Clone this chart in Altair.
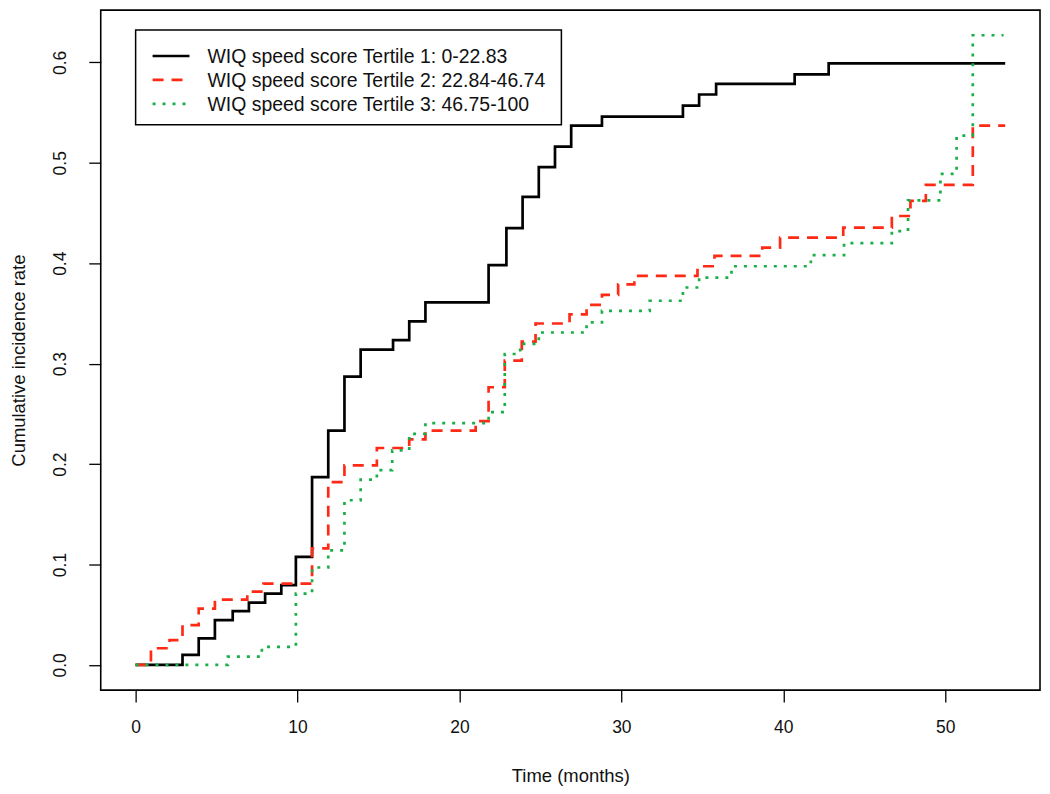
import altair as alt
import pandas as pd

# ---- data ----
series_labels = [
    "WIQ speed score Tertile 1: 0-22.83",
    "WIQ speed score Tertile 2: 22.84-46.74",
    "WIQ speed score Tertile 3: 46.75-100",
]
series_colors = ["#000000", "#ff2a16", "#1aaf48"]
series_dashes = [[1, 0], [11, 8], [3, 7]]

t1_time = [0, 2.9, 3.9, 4.9, 6.0, 7.0, 8.0, 9.0, 9.9, 10.9, 11.9, 12.9, 13.9, 15.9,
           16.9, 17.9, 21.8, 22.9, 23.9, 24.9, 25.9, 26.9, 28.8, 33.8, 34.8, 35.85,
           40.7, 42.8, 53.7]
t1_val = [0, 0.010, 0.0265, 0.0447, 0.0536, 0.062, 0.071, 0.0795, 0.1076, 0.187,
          0.2334, 0.287, 0.314, 0.3235, 0.342, 0.361, 0.398, 0.435, 0.466, 0.4957,
          0.516, 0.537, 0.546, 0.557, 0.568, 0.5785, 0.588, 0.599, 0.599]

t2_time = [0, 0.95, 2.1, 2.9, 3.9, 4.9, 6.9, 7.9, 10.9, 11.9, 12.9, 14.9, 16.9, 17.9,
           21.0, 21.8, 22.8, 23.85, 24.7, 26.8, 27.85, 28.8, 29.8, 30.8, 34.7, 35.75,
           38.7, 39.8, 43.7, 46.7, 47.85, 48.8, 51.7, 53.7]
t2_val = [0, 0.0166, 0.0248, 0.0397, 0.056, 0.065, 0.073, 0.081, 0.116, 0.182,
          0.1987, 0.216, 0.2245, 0.2334, 0.2427, 0.2765, 0.303, 0.322, 0.340, 0.349,
          0.3586, 0.3685, 0.379, 0.3874, 0.397, 0.4073, 0.4155, 0.4255, 0.4354,
          0.447, 0.462, 0.478, 0.537, 0.537]

t3_time = [0, 5.7, 7.8, 9.9, 10.9, 11.9, 12.9, 13.9, 14.9, 15.85, 16.9, 17.9, 21.8,
           22.8, 23.75, 24.9, 27.85, 28.8, 31.75, 33.8, 34.8, 36.8, 41.7, 43.75, 46.7,
           47.7, 49.7, 50.7, 51.7, 53.6]
t3_val = [0, 0.0083, 0.018, 0.071, 0.097, 0.114, 0.164, 0.1845, 0.194, 0.2136, 0.230,
          0.2407, 0.2517, 0.3096, 0.3196, 0.331, 0.341, 0.3526, 0.3626, 0.3758,
          0.3857, 0.397, 0.408, 0.420, 0.432, 0.4625, 0.489, 0.527, 0.627, 0.627]

x_ticks = [0, 10, 20, 30, 40, 50]
y_ticks = [0.0, 0.1, 0.2, 0.3, 0.4, 0.5, 0.6]

x_label = "Time (months)"
y_label = "Cumulative incidence rate"

# ---- build table ----
rows = []
for lab, ts, vs in zip(series_labels, [t1_time, t2_time, t3_time], [t1_val, t2_val, t3_val]):
    for t, v in zip(ts, vs):
        rows.append({"series": lab, "time": t, "cif": v})
df = pd.DataFrame(rows)

W, H = 942, 682
FONT = "Liberation Sans"

x_scale = alt.Scale(domain=[-2.15, 55.85], nice=False, zero=False)
y_scale = alt.Scale(domain=[-0.0251, 0.652], nice=False, zero=False)

x_axis = alt.Axis(values=x_ticks, format="d", grid=False, domain=False,
                  tickSize=12, tickWidth=1.3, tickColor="#000",
                  labelFont=FONT, labelFontSize=17.5, labelColor="#111",
                  labelPadding=16, title=x_label, titleFont=FONT,
                  titleFontSize=18.5, titleFontWeight="normal", titleColor="#111",
                  titleY=86, titleBaseline="middle")
y_axis = alt.Axis(values=y_ticks, format=".1f", grid=False, domain=False,
                  tickSize=12, tickWidth=1.3, tickColor="#000",
                  labelFont=FONT, labelFontSize=17.5, labelColor="#111",
                  labelAngle=270, labelAlign="center", labelBaseline="bottom",
                  labelPadding=19, title=y_label, titleFont=FONT,
                  titleFontSize=18.5, titleFontWeight="normal", titleColor="#111",
                  titleAngle=270, titleX=-82, titleY=H / 2 + 10,
                  titleBaseline="middle", titleAlign="center")

lines = alt.Chart(df).mark_line(interpolate="step-after", strokeWidth=2.7).encode(
    x=alt.X("time:Q", scale=x_scale, axis=x_axis),
    y=alt.Y("cif:Q", scale=y_scale, axis=y_axis),
    color=alt.Color("series:N", scale=alt.Scale(domain=series_labels, range=series_colors), legend=None),
    strokeDash=alt.StrokeDash("series:N", scale=alt.Scale(domain=series_labels, range=series_dashes), legend=None),
    order=alt.Order("time:Q"),
)

# ---- hand-drawn legend box ----
box = alt.Chart(pd.DataFrame({"k": [0]})).mark_rect(
    fill="white", stroke="#000", strokeWidth=1.5
).encode(x=alt.value(35), x2=alt.value(462), y=alt.value(20), y2=alt.value(115))

legend_layers = [box]
for i, lab in enumerate(series_labels):
    ly = 46 + 24 * i
    one = pd.DataFrame({"label": [lab]})
    legend_layers.append(
        alt.Chart(one).mark_rule(color=series_colors[i], strokeWidth=2.7,
                                 strokeDash=series_dashes[i]).encode(
            x=alt.value(52), x2=alt.value(89), y=alt.value(ly))
    )
    legend_layers.append(
        alt.Chart(one).mark_text(align="left", baseline="middle", font=FONT,
                                 fontSize=19.5, color="#111").encode(
            x=alt.value(107), y=alt.value(ly + 1), text="label:N")
    )

chart = alt.layer(lines, *legend_layers).properties(
    width=W, height=H,
    autosize=alt.AutoSizeParams(type="none"),
    padding={"left": 93, "top": 1, "right": 2, "bottom": 95},
    background="white",
).configure_view(stroke="#000", strokeWidth=1.6)

chart.save("out.html", embed_options={"renderer": "svg", "actions": False})
